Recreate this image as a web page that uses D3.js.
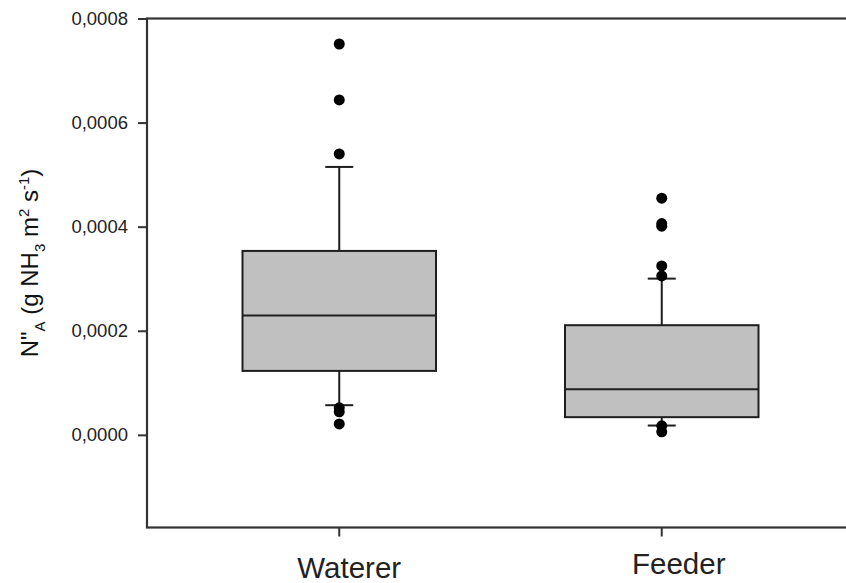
<!DOCTYPE html>
<html>
<head>
<meta charset="utf-8">
<script src="https://cdn.jsdelivr.net/npm/d3@7"></script>
<style>
  html, body { margin: 0; padding: 0; background: #fff; }
  svg { display: block; font-family: "Liberation Sans", Arial, sans-serif; }
</style>
</head>
<body>
<svg id="chart" width="846" height="583"></svg>
<script>
// Box-plot statistics per location (g NH3 m-2 s-1)
const categories = ["Waterer", "Feeder"];
const whiskerLow = [0.0000570, 0.0000179];
const q1 = [0.0001229, 0.0000340];
const median = [0.0002292, 0.0000878];
const q3 = [0.0003534, 0.0002107];
const whiskerHigh = [0.0005148, 0.0003002];
const outliers = [
  [0.000751, 0.0006435, 0.0005397, 0.0000519, 0.0000442, 0.0000211],
  [0.0004547, 0.0004060, 0.0004010, 0.0003246, 0.0003054, 0.0000173, 0.0000058]
];
const yTicks = [0, 0.0002, 0.0004, 0.0006, 0.0008];

const svg = d3.select("#chart");
const plot = { left: 147, top: 18.5, right: 960, bottom: 527.5 };

const x = d3.scaleBand()
  .domain(categories)
  .range([178, 823])
  .paddingInner(0.4)
  .paddingOuter(0.2);

const y = d3.scaleLinear()
  .domain([-0.000178, 0.0008])
  .range([plot.bottom, plot.top]);

const ink = "#1e1e1e";
const capHalf = 14;

// y axis ticks and labels
const yAxis = svg.append("g")
  .attr("transform", `translate(${plot.left},0)`)
  .call(d3.axisLeft(y)
    .tickValues(yTicks)
    .tickSize(9)
    .tickPadding(10)
    .tickFormat(d => d3.format(".4f")(d).replace(".", ",")));
yAxis.select(".domain").remove();
yAxis.selectAll(".tick line").attr("stroke", "#333").attr("stroke-width", 2);
yAxis.selectAll(".tick text")
  .attr("fill", "#222")
  .style("font-size", "18.5px")
  .style("font-family", "'Liberation Sans', Arial, sans-serif");

// x axis ticks and category labels
const xAxis = svg.append("g")
  .attr("transform", `translate(0,${plot.bottom})`)
  .call(d3.axisBottom(x).tickSize(9).tickFormat(""));
xAxis.select(".domain").remove();
xAxis.selectAll(".tick line").attr("stroke", "#333").attr("stroke-width", 2);

const labelShift = { Waterer: [10, 50], Feeder: [17, 46] };
svg.append("g").selectAll("text")
  .data(categories)
  .join("text")
  .attr("x", d => x(d) + x.bandwidth() / 2 + labelShift[d][0])
  .attr("y", d => plot.bottom + labelShift[d][1])
  .attr("text-anchor", "middle")
  .attr("fill", "#222")
  .style("font-size", "29.5px")
  .text(d => d);

// frame (left, top and bottom edges visible)
svg.append("rect")
  .attr("x", plot.left)
  .attr("y", plot.top)
  .attr("width", plot.right - plot.left)
  .attr("height", plot.bottom - plot.top)
  .attr("fill", "none")
  .attr("stroke", "#333")
  .attr("stroke-width", 2.2);

// y axis title with sub/superscripts
const title = svg.append("text")
  .attr("transform", `translate(38,${263}) rotate(-90)`)
  .attr("text-anchor", "middle")
  .attr("fill", "#111")
  .style("font-size", "24px");
const parts = [
  ["N\"", 0], ["A", 1], [" (g NH", 0], ["3", 1], [" m", 0], ["2", -1], [" s", 0], ["-1", -1], [")", 0]
];
let prevShift = 0;
parts.forEach(([t, s]) => {
  const shift = s === 1 ? 7 : s === -1 ? -9 : 0;
  title.append("tspan")
    .attr("dy", shift - prevShift)
    .style("font-size", s === 0 ? "24px" : "15px")
    .text(t);
  prevShift = shift;
});

// boxes
const boxes = svg.append("g").selectAll("g")
  .data(categories)
  .join("g");

boxes.append("line")
  .attr("x1", d => x(d) + x.bandwidth() / 2)
  .attr("x2", d => x(d) + x.bandwidth() / 2)
  .attr("y1", (d, i) => y(whiskerHigh[i]))
  .attr("y2", (d, i) => y(q3[i]))
  .attr("stroke", ink).attr("stroke-width", 2);
boxes.append("line")
  .attr("x1", d => x(d) + x.bandwidth() / 2)
  .attr("x2", d => x(d) + x.bandwidth() / 2)
  .attr("y1", (d, i) => y(q1[i]))
  .attr("y2", (d, i) => y(whiskerLow[i]))
  .attr("stroke", ink).attr("stroke-width", 2);
[whiskerHigh, whiskerLow].forEach(arr => {
  boxes.append("line")
    .attr("x1", d => x(d) + x.bandwidth() / 2 - capHalf)
    .attr("x2", d => x(d) + x.bandwidth() / 2 + capHalf)
    .attr("y1", (d, i) => y(arr[i]))
    .attr("y2", (d, i) => y(arr[i]))
    .attr("stroke", ink).attr("stroke-width", 2);
});
boxes.append("rect")
  .attr("x", d => x(d))
  .attr("width", x.bandwidth())
  .attr("y", (d, i) => y(q3[i]))
  .attr("height", (d, i) => y(q1[i]) - y(q3[i]))
  .attr("fill", "#c0c0c0")
  .attr("stroke", ink).attr("stroke-width", 2);
boxes.append("line")
  .attr("x1", d => x(d))
  .attr("x2", d => x(d) + x.bandwidth())
  .attr("y1", (d, i) => y(median[i]))
  .attr("y2", (d, i) => y(median[i]))
  .attr("stroke", ink).attr("stroke-width", 2);

// outlier points
boxes.each(function (d, i) {
  d3.select(this).selectAll("circle")
    .data(outliers[i])
    .join("circle")
    .attr("cx", x(d) + x.bandwidth() / 2)
    .attr("cy", v => y(v))
    .attr("r", 5.5)
    .attr("fill", "#000");
});
</script>
</body>
</html>
